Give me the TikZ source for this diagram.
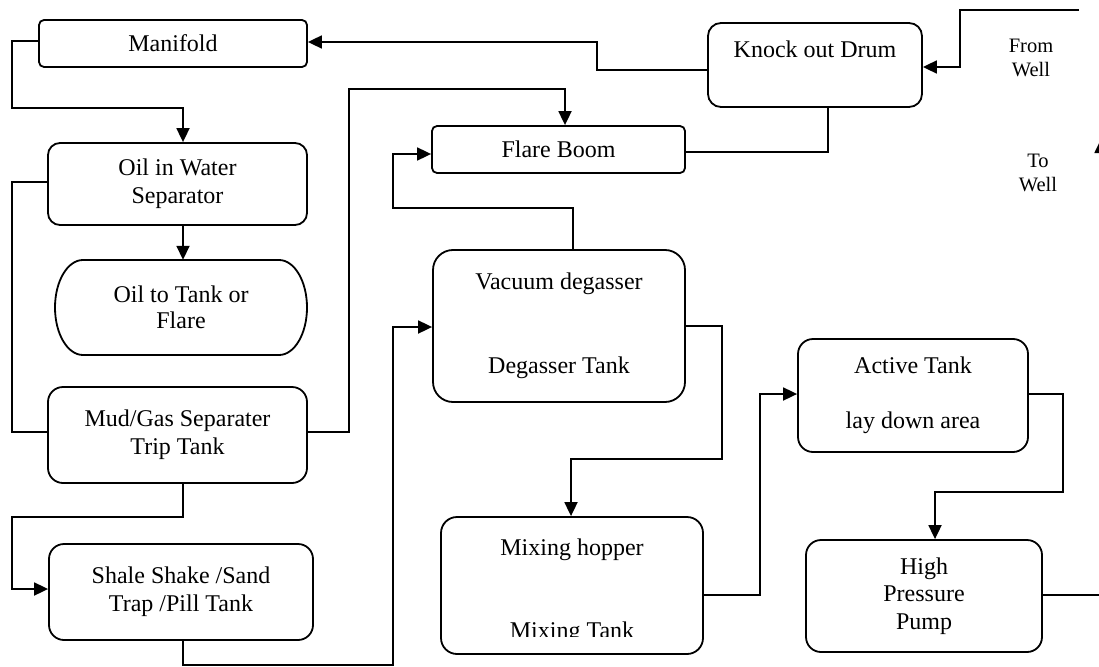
\documentclass[tikz,border=0pt]{standalone}
\usepackage{fontspec}
\setmainfont{Liberation Serif}
\usetikzlibrary{arrows.meta}
\begin{document}
\begin{tikzpicture}[x=1pt,y=-1pt,
  ln/.style={line width=1.8pt},
  arr/.style={ln,-{Triangle[length=14pt,width=13pt]}},
  box/.style={draw,line width=1.8pt,inner sep=0pt,align=center,
              font=\fontsize{24}{28}\selectfont},
  txt/.style={inner sep=0pt,align=center,font=\fontsize{24}{28}\selectfont},
  small/.style={inner sep=0pt,align=center,font=\fontsize{20.5}{24}\selectfont}]
\clip (0,0) rectangle (1099,666);

% process units
\node[box,rounded corners=5pt,minimum width=268pt,minimum height=47pt] (man) at (173,43.5) {Manifold};
\node[box,rounded corners=13pt,minimum width=214pt,minimum height=84pt] (kod) at (815,65) {};
\node[txt,anchor=base] (kodt) at (815,58) {Knock out Drum};
\node[box,rounded corners=5pt,minimum width=253pt,minimum height=47pt] (flare) at (558.5,149.5) {Flare Boom};
\node[box,rounded corners=12pt,minimum width=259pt,minimum height=82pt] (ows) at (177.5,184) {Oil in Water\\Separator};
\node[txt,minimum width=252pt,minimum height=95pt,font=\fontsize{24}{26}\selectfont] (oil) at (181,307.5) {Oil to Tank or\\Flare};
% terminator outline with elliptic ends
\draw[ln] (83,260) -- (279,260)
  .. controls (294.5,260) and (307,281.3) .. (307,307.5)
  .. controls (307,333.7) and (294.5,355) .. (279,355)
  -- (83,355)
  .. controls (67.5,355) and (55,333.7) .. (55,307.5)
  .. controls (55,281.3) and (67.5,260) .. (83,260) -- cycle;
\node[box,rounded corners=15pt,minimum width=259pt,minimum height=96pt] (mud) at (177.5,435) {Mud/Gas Separater\\Trip Tank};
\node[box,rounded corners=15pt,minimum width=264pt,minimum height=96pt] (shale) at (181,592) {Shale Shake /Sand\\Trap /Pill Tank};
\node[box,rounded corners=20pt,minimum width=252pt,minimum height=152pt] (vac) at (559,326) {Vacuum degasser\\[56pt]Degasser Tank};
\node[box,rounded corners=15pt,minimum width=230pt,minimum height=113pt] (act) at (913,395.5) {Active Tank\\[27pt]lay down area};
\node[box,rounded corners=16pt,minimum width=262pt,minimum height=137pt] (mix) at (572,585.5) {};
\node[txt,anchor=base] (mixa) at (572,555) {Mixing hopper};
\begin{scope}
  \clip (441,517) rectangle (703,636);
  \node[txt,anchor=base] (mixb) at (572,638) {Mixing Tank};
\end{scope}
\node[box,rounded corners=15pt,minimum width=236pt,minimum height=112pt,font=\fontsize{24}{27.5}\selectfont] (hpp) at (924,596) {High\\Pressure\\Pump};

% well labels
\node[small] (from) at (1031,58) {From\\Well};
\node[small] (to) at (1038,173) {To\\Well};
\coordinate (fw) at (1079,10);
\coordinate (tw) at (1101,139);

% flow lines
\draw[arr] (fw) -| (960,67) -- (kod.east |- 0,67);
\draw[arr] (kod.west |- 0,70) -| (597,42) -- (man.east |- 0,42);
\draw[ln] (flare.east |- 0,152) -| (kod.south -| 828,0);
\draw[arr] (man.west |- 0,41) -| (12,108) -| (ows.north -| 183,0);
\draw[ln] (ows.west |- 0,182) -| (12,432) -- (mud.west |- 0,432);
\draw[arr] (ows.south -| 183,0) -- (oil.north -| 183,0);
\draw[arr] (mud.east |- 0,432) -| (349,89) -| (flare.north -| 565,0);
\draw[arr] (mud.south -| 183,0) |- (12,517) |- (shale.west |- 0,589);
\draw[arr] (shale.south -| 183,0) |- (393,665) |- (vac.west |- 0,327);
\draw[arr] (vac.north -| 573,0) |- (393,208) |- (flare.west |- 0,154);
\draw[arr] (vac.east |- 0,326) -| (722,459) -| (mix.north -| 571,0);
\draw[arr] (mix.east |- 0,595) -| (760,394) -- (act.west |- 0,394);
\draw[arr] (act.east |- 0,394) -| (1063,492) -| (hpp.north -| 935,0);
\draw[arr] (hpp.east |- 0,595) -| (tw);
\end{tikzpicture}
\end{document}
